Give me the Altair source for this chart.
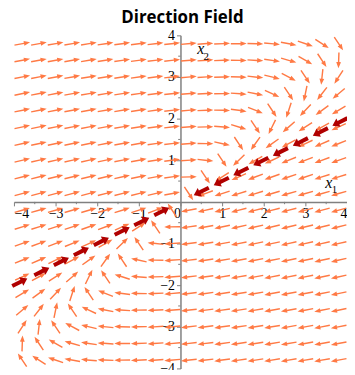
import math
import altair as alt
import pandas as pd

# ---- data ----
title_text = "Direction Field"
# linear system x' = A x (rows of A), estimated from the arrow directions
A_row1 = [-0.9, 1.0]
A_row2 = [-0.25, 0.1]
# 20 x 20 direction grid
grid_vals = [-3.8, -3.4, -3.0, -2.6, -2.2, -1.8, -1.4, -1.0, -0.6, -0.2,
             0.2, 0.6, 1.0, 1.4, 1.8, 2.2, 2.6, 3.0, 3.4, 3.8]
# thick red arrows along the straight-line solution
red_upper_x = [3.83, 3.36, 2.88, 2.40, 1.93, 1.45, 0.98, 0.50]
red_upper_y = [1.92, 1.68, 1.44, 1.20, 0.97, 0.73, 0.49, 0.25]
red_lower_x = [-3.86, -3.33, -2.86, -2.38, -1.90, -1.40, -0.93, -0.45]
red_lower_y = [-1.93, -1.67, -1.43, -1.19, -0.95, -0.70, -0.47, -0.23]
x_ticks = [-4, -3, -2, -1, 0, 1, 2, 3, 4]
y_ticks = [-4, -3, -2, -1, 1, 2, 3, 4]
minor_ticks = [-3.5, -2.5, -1.5, -0.5, 0.5, 1.5, 2.5, 3.5]

# ---- tables ----
rows = []
for gx in grid_vals:
    for gy in grid_vals:
        u = A_row1[0] * gx + A_row1[1] * gy
        v = A_row2[0] * gx + A_row2[1] * gy
        th = math.degrees(math.atan2(v, u))
        rows.append({"x": gx, "y": gy, "rot": (90 - th) % 360})
field = pd.DataFrame(rows)

red_rows = []
for px, py in zip(red_upper_x, red_upper_y):
    th = math.degrees(math.atan2(-py, -px))
    red_rows.append({"x": px, "y": py, "rot": (90 - th) % 360})
for px, py in zip(red_lower_x, red_lower_y):
    th = math.degrees(math.atan2(-py, -px))
    red_rows.append({"x": px, "y": py, "rot": (90 - th) % 360})
red = pd.DataFrame(red_rows)

minor_x = pd.DataFrame({"x": minor_ticks, "x2": minor_ticks,
                        "y": [0.0] * len(minor_ticks), "y2": [-0.055] * len(minor_ticks)})
minor_y = pd.DataFrame({"x": [0.0] * len(minor_ticks), "x2": [-0.055] * len(minor_ticks),
                        "y": minor_ticks, "y2": minor_ticks})

axis_main = pd.DataFrame({"x": [3.56, 0.49], "y": [0.333, 3.548], "t": ["x", "x"]})
axis_sub = pd.DataFrame({"x": [3.70, 0.62], "y": [0.214, 3.40], "t": ["1", "2"]})
title_df = pd.DataFrame({"t": [title_text]})

# ---- scales / axes ----
xs = alt.Scale(domain=[-4, 4], nice=False, zero=False)
ys = alt.Scale(domain=[-4, 4], nice=False, zero=False)
GRAY = "#808080"
x_axis = alt.Axis(values=x_ticks, orient="bottom", offset=-168, title=None, grid=False,
                  labelFont="Liberation Serif", labelFontSize=14, labelColor="black",
                  domainColor=GRAY, domainWidth=1.5, tickColor=GRAY, tickSize=4,
                  labelPadding=1, labelFlush=True,
                  labelAlign={"condition": [
                      {"test": "datum.value === 0", "value": "right"},
                      {"test": "datum.value === 4", "value": "right"},
                      {"test": "datum.value === -4", "value": "left"}],
                      "value": "center"})
y_axis = alt.Axis(values=y_ticks, orient="left", offset=-168, title=None, grid=False,
                  labelFont="Liberation Serif", labelFontSize=14, labelColor="black",
                  domainColor=GRAY, domainWidth=1.5, tickColor=GRAY, tickSize=4,
                  labelPadding=2)
X = alt.X("x:Q", scale=xs, axis=x_axis)
Y = alt.Y("y:Q", scale=ys, axis=y_axis)

orange_path = "M-0.09,1L0.09,1L0.09,-0.22L0.3,-0.22L0,-1L-0.3,-0.22L-0.09,-0.22Z"
red_path = "M-0.24,1L0.24,1L0.24,-0.2L0.55,-0.2L0,-1L-0.55,-0.2L-0.24,-0.2Z"

arrows = alt.Chart(field).mark_point(
    shape=orange_path, filled=True, size=256, color="#FF7A45", opacity=1, strokeWidth=0
).encode(x=X, y=Y, angle=alt.Angle("rot:Q", scale=None))

red_arrows = alt.Chart(red).mark_point(
    shape=red_path, filled=True, size=289, color="#B00000", opacity=1, strokeWidth=0
).encode(x=X, y=Y, angle=alt.Angle("rot:Q", scale=None))

mx = alt.Chart(minor_x).mark_rule(color=GRAY, strokeWidth=1).encode(
    x=X, y=Y, x2="x2:Q", y2="y2:Q")
my = alt.Chart(minor_y).mark_rule(color=GRAY, strokeWidth=1).encode(
    x=X, y=Y, x2="x2:Q", y2="y2:Q")

lab_main = alt.Chart(axis_main).mark_text(
    font="Liberation Serif", fontStyle="italic", fontSize=16, color="black",
    align="center", baseline="alphabetic"
).encode(x=X, y=Y, text="t:N")
lab_sub = alt.Chart(axis_sub).mark_text(
    font="Liberation Serif", fontSize=11, color="black",
    align="center", baseline="alphabetic"
).encode(x=X, y=Y, text="t:N")

title_mark = alt.Chart(title_df).mark_text(
    font="Open Sans", fontSize=17, fontWeight="bold", color="black",
    align="center", baseline="alphabetic"
).encode(x=alt.value(170), y=alt.value(-12), text="t:N")

chart = alt.layer(arrows, mx, my, red_arrows, lab_main, lab_sub, title_mark).properties(
    width=336, height=336,
    autosize=alt.AutoSizeParams(type="none"),
    padding={"left": 6, "top": 26, "right": 0, "bottom": 0},
).configure_view(stroke=None)

chart.save("out.html", embed_options={"renderer": "svg", "actions": False})
